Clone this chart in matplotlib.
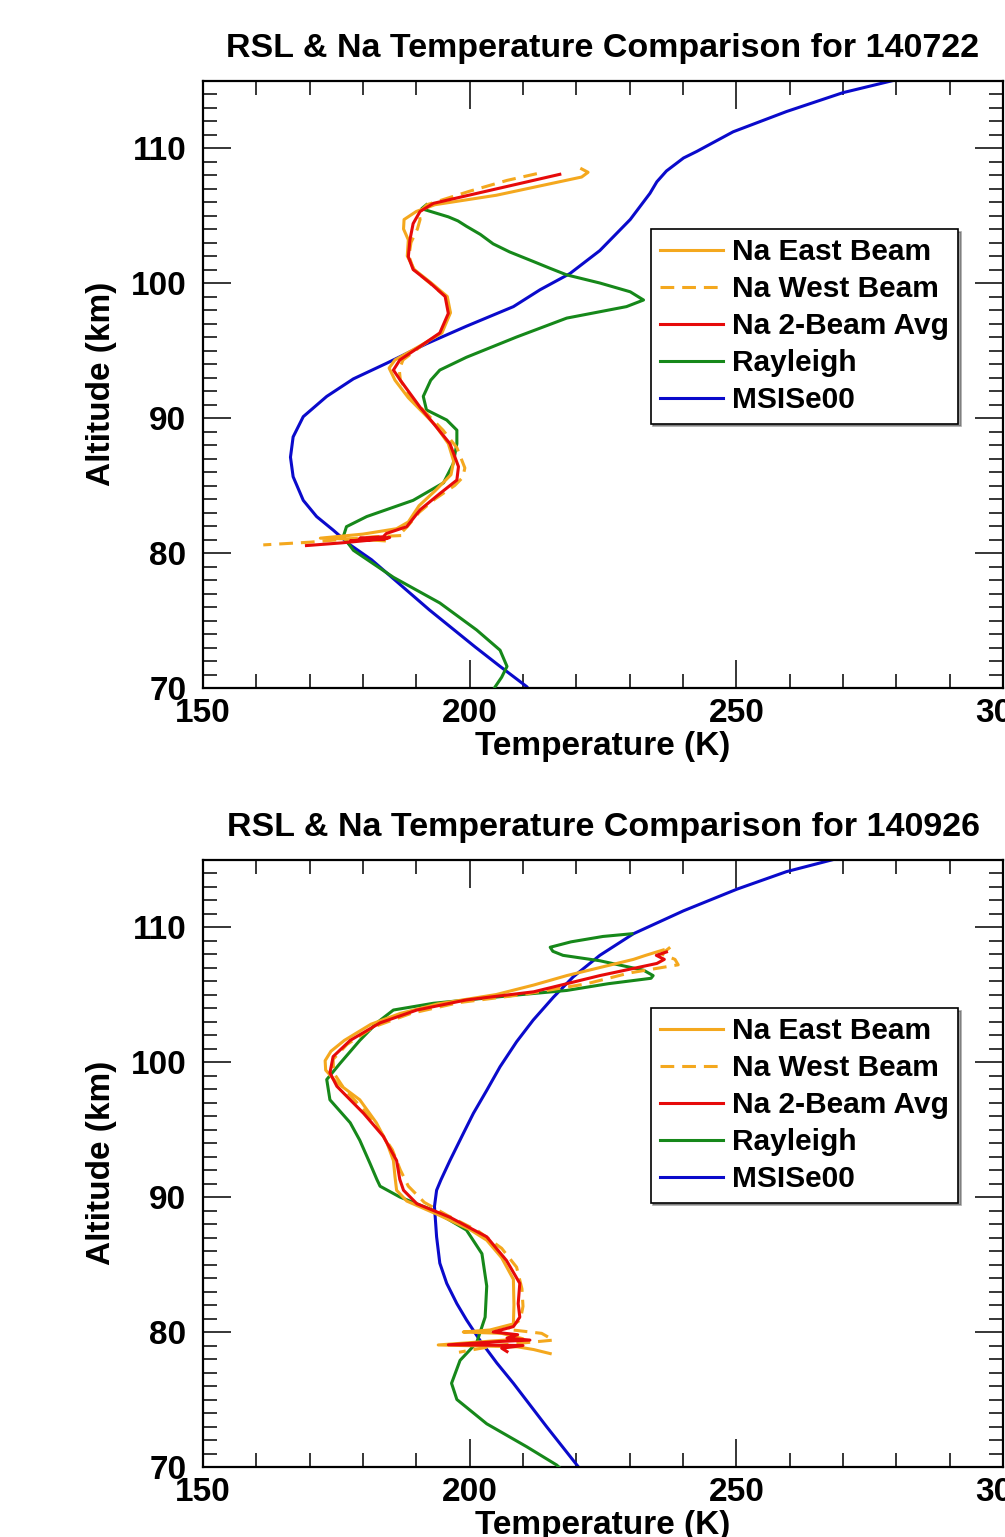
import matplotlib
matplotlib.use("Agg")
import matplotlib.pyplot as plt
from matplotlib.ticker import MultipleLocator

# ---------------- data: 140722 ----------------
msis1_alt = [115.0, 114.1, 112.7, 111.2, 109.75, 109.26, 108.3, 107.5, 106.64, 104.7, 102.4, 100.7,
             99.5, 98.25, 96.8, 95.5, 94.05, 92.9, 91.6, 90.1, 88.6, 87.1, 85.65, 83.9, 82.7, 81.7,
             80.6, 79.5, 75.8, 73.05, 71.6, 70.1, 69.9]
msis1_T = [279.4, 270.0, 259.4, 249.4, 242.6, 240.1, 236.9, 235.1, 233.8, 230.1, 224.4, 218.8,
           213.2, 208.2, 199.4, 191.9, 184.4, 178.2, 173.2, 168.8, 166.9, 166.4, 166.9, 168.8, 171.3, 174.4,
           177.6, 181.6, 192.4, 201.0, 205.7, 210.7, 211.1]

ray1_alt = [105.8, 105.5, 105.2, 104.9, 104.6, 104.2, 103.6, 102.9, 102.3, 101.6, 101.1, 100.6, 100.0,
            99.35, 98.74, 98.25, 97.4, 96.0, 94.5, 93.55, 92.8, 91.6, 90.6, 89.85, 89.1, 88.1, 86.6,
            85.2, 83.9, 82.7, 81.95, 81.2, 80.2, 78.2, 76.3, 74.3, 72.8, 71.6, 70.8, 70.1, 69.9]
ray1_T = [191.9, 191.0, 193.5, 196.0, 197.8, 199.4, 202.0, 204.4, 207.5, 211.9, 215.0, 218.2, 224.4,
          230.1, 232.6, 229.4, 218.2, 208.8, 199.4, 194.4, 192.7, 191.3, 191.9, 195.7, 197.6, 197.6, 196.9,
          195.1, 189.4, 180.7, 176.9, 176.3, 178.2, 185.7, 194.4, 201.3, 205.7, 207.0, 206.0, 204.8, 204.5]

east1_alt = [108.45, 108.2, 107.85, 106.5, 105.8, 105.3, 104.7, 104.0, 103.2, 102.0, 101.0, 100.0, 99.0,
             97.8, 96.3, 95.3, 94.3, 93.7, 92.8, 91.5, 90.5, 89.5, 88.1, 86.8, 85.8, 84.6, 83.5, 82.3,
             81.8, 81.4, 81.1, 81.0, 80.9]
east1_T = [221.0, 222.2, 221.0, 205.0, 193.5, 190.0, 187.7, 187.6, 188.5, 188.3, 189.6, 192.8, 195.8,
           196.4, 194.8, 190.5, 186.0, 184.9, 186.0, 188.5, 191.0, 193.5, 196.0, 197.0, 196.5, 193.5, 190.5,
           188.5, 186.3, 180.0, 172.0, 180.0, 184.0]

west1_alt = [108.1, 107.6, 106.8, 105.8, 105.2, 104.7, 104.0, 103.0, 102.0, 101.0, 100.0, 99.0, 97.8,
             96.3, 95.3, 94.3, 93.6, 92.8, 91.5, 90.3, 89.1, 87.8, 86.8, 86.3, 85.6, 85.0, 84.0, 83.0,
             82.0, 81.5, 81.3, 81.2, 81.0, 80.8, 80.6]
west1_T = [212.6, 207.0, 200.0, 192.0, 190.5, 190.7, 190.2, 189.0, 188.6, 189.5, 192.5, 195.5, 196.3,
           194.6, 190.8, 187.5, 186.8, 187.0, 189.0, 192.0, 195.0, 197.6, 198.6, 199.1, 198.7, 197.2, 193.5,
           190.5, 188.4, 187.2, 187.6, 182.0, 176.0, 170.0, 161.3]

avg1_alt = [108.05, 105.9, 105.3, 104.4, 103.2, 101.95, 101.0, 100.0, 99.0, 97.75, 96.3, 95.3, 94.3,
            93.55, 92.8, 90.8, 89.6, 88.1, 86.4, 85.4, 84.4, 83.2, 81.95, 81.45, 81.2, 81.1, 81.0,
            81.15, 80.9, 81.05, 80.75, 80.55]
avg1_T = [216.9, 193.2, 190.7, 189.4, 188.8, 188.5, 189.4, 192.6, 195.4, 196.0, 194.4, 190.7, 186.9,
          185.7, 187.0, 190.7, 193.2, 196.3, 197.9, 197.6, 194.4, 190.7, 188.2, 184.4, 183.8, 179.4, 183.8,
          185.0, 177.6, 184.0, 176.0, 169.4]

# ---------------- data: 140926 ----------------
msis2_alt = [115.0, 114.1, 112.8, 111.2, 109.5, 107.9, 106.3, 104.8, 103.1, 101.5, 99.65, 97.9, 96.2,
             94.7, 92.7, 91.26, 90.5, 89.3, 87.05, 85.1, 83.6, 82.1, 80.9, 79.4, 77.7, 76.2, 73.0,
             70.15, 69.9]
msis2_T = [268.2, 259.4, 250.1, 240.1, 230.7, 224.4, 219.4, 215.7, 211.9, 208.8, 205.7, 203.2, 200.7,
           198.8, 196.3, 194.6, 193.8, 193.4, 193.8, 194.4, 195.7, 197.6, 199.4, 201.9, 205.1, 208.2, 214.4,
           220.1, 220.6]

ray2_alt = [109.5, 109.3, 108.9, 108.5, 108.2, 107.9, 107.5, 106.8, 106.4, 106.2, 105.8, 105.3, 104.96,
            104.35, 103.85, 102.9, 101.6, 99.9, 98.7, 97.2, 95.5, 94.2, 92.5, 91.3, 90.8, 90.0, 89.0,
            87.55, 85.8, 83.4, 81.1, 79.2, 77.9, 76.2, 75.0, 73.2, 71.5, 70.15, 69.9]
ray2_T = [230.4, 225.0, 219.0, 215.1, 215.6, 217.5, 224.4, 232.6, 234.4, 234.0, 226.0, 218.2, 208.8,
          193.2, 185.7, 182.6, 179.4, 175.7, 173.2, 173.8, 177.6, 179.4, 181.3, 182.6, 183.2, 186.9, 193.2,
          199.4, 202.3, 203.2, 202.9, 201.3, 198.2, 196.6, 197.6, 203.2, 210.7, 216.3, 217.0]

east2_alt = [108.3, 107.9, 107.6, 106.4, 105.7, 105.0, 104.3, 103.6, 102.8, 101.6, 100.8, 100.1, 99.4,
             98.5, 97.2, 95.5, 94.0, 92.7, 91.5, 90.5, 89.7, 88.7, 87.6, 86.8, 85.5, 83.9, 82.0, 80.6,
             80.15, 80.0, 79.9, 79.5, 79.04, 78.9, 78.7, 78.4]
east2_T = [236.3, 233.0, 230.7, 218.2, 212.0, 205.0, 194.0, 187.0, 181.5, 176.5, 174.0, 172.9, 173.0,
           175.0, 179.4, 182.5, 184.5, 185.7, 186.0, 186.3, 188.2, 194.0, 200.0, 203.2, 206.0, 208.2, 208.3,
           208.2, 203.8, 198.8, 206.0, 210.0, 194.1, 209.0, 212.0, 215.1]

west2_alt = [108.5, 108.0, 107.6, 107.2, 106.6, 105.8, 105.0, 104.4, 103.6, 102.6, 101.3, 100.2, 99.2,
             98.0, 96.5, 95.0, 93.5, 92.0, 90.8, 89.6, 88.6, 87.5, 86.2, 84.8, 83.2, 81.9, 80.9, 80.2,
             79.9, 79.4, 79.0, 78.5]
west2_T = [237.6, 236.0, 238.5, 239.1, 230.0, 222.0, 210.0, 198.0, 189.0, 182.0, 177.0, 174.4, 174.5,
           176.5, 180.0, 183.0, 185.5, 187.0, 188.5, 191.5, 196.0, 201.5, 206.0, 208.8, 209.8, 210.0, 209.5,
           207.0, 213.5, 215.7, 205.0, 198.0]

avg2_alt = [108.15, 107.9, 107.6, 107.3, 106.4, 105.2, 104.6, 103.85, 102.9, 101.6, 100.4, 99.2, 98.2,
            96.2, 94.5, 92.7, 91.3, 90.5, 89.5, 88.5, 87.05, 85.3, 83.6, 82.1, 81.1, 80.4, 80.0, 79.8,
            79.55, 79.4, 79.3, 79.05, 79.0, 78.8, 78.55]
avg2_T = [236.9, 235.0, 236.5, 235.1, 224.4, 212.0, 199.4, 190.1, 183.2, 177.6, 174.4, 173.8, 175.1,
          180.1, 183.8, 186.3, 186.9, 187.6, 190.1, 196.3, 203.2, 206.9, 209.4, 209.1, 209.4, 208.2, 204.4,
          209.0, 207.0, 211.3, 205.7, 196.0, 210.0, 206.0, 207.0]

titles = ["RSL & Na Temperature Comparison for 140722",
          "RSL & Na Temperature Comparison for 140926"]
labels = ["Na East Beam", "Na West Beam", "Na 2-Beam Avg", "Rayleigh", "MSISe00"]
xticks = [150, 200, 250, 300]
yticks = [70, 80, 90, 100, 110]

C_OR = "#F4A81E"
C_RD = "#E60A0A"
C_GR = "#16881A"
C_BL = "#0A0ACB"

FONT = ["Liberation Sans", "DejaVu Sans"]
plt.rcParams["font.family"] = FONT
plt.rcParams["font.weight"] = "bold"

fig = plt.figure(figsize=(10.05, 15.37), dpi=100)
L, W, H = 203 / 1005, 800 / 1005, 607.5 / 1537
bottoms = [1 - 688 / 1537, 1 - 1467 / 1537]

panels = [
    (msis1_T, msis1_alt, ray1_T, ray1_alt, east1_T, east1_alt, west1_T, west1_alt, avg1_T, avg1_alt),
    (msis2_T, msis2_alt, ray2_T, ray2_alt, east2_T, east2_alt, west2_T, west2_alt, avg2_T, avg2_alt),
]

for i, p in enumerate(panels):
    ax = fig.add_axes([L, bottoms[i], W, H])
    mT, mA, rT, rA, eT, eA, wT, wA, aT, aA = p
    lw = 2.2
    hm, = ax.plot(mT, mA, color=C_BL, lw=lw, zorder=2)
    hr, = ax.plot(rT, rA, color=C_GR, lw=lw, zorder=3)
    he, = ax.plot(eT, eA, color=C_OR, lw=lw, zorder=4)
    hw, = ax.plot(wT, wA, color=C_OR, lw=lw, ls=(0, (4.5, 2.6)), zorder=4)
    ha, = ax.plot(aT, aA, color=C_RD, lw=lw, zorder=5)

    ax.set_xlim(150, 300)
    ax.set_ylim(70, 115)
    ax.set_xticks(xticks)
    ax.set_yticks(yticks)
    ax.xaxis.set_minor_locator(MultipleLocator(10))
    ax.yaxis.set_minor_locator(MultipleLocator(1))
    ax.tick_params(which="both", direction="in", top=True, right=True, color="black")
    ax.tick_params(which="major", length=20, width=1.1)
    ax.tick_params(which="minor", length=10, width=1.1)
    ax.tick_params(axis="x", which="major", labelsize=24, pad=7.5)
    ax.tick_params(axis="y", which="major", labelsize=24, pad=12)
    for lab in ax.get_xticklabels() + ax.get_yticklabels():
        lab.set_fontweight("bold")
    for s in ax.spines.values():
        s.set_linewidth(1.6)

    ax.set_xlabel("Temperature (K)", fontsize=24, fontweight="bold", labelpad=1)
    ax.set_ylabel("Altitude (km)", fontsize=24, fontweight="bold", labelpad=10)
    ax.set_title(titles[i], fontsize=24.5, fontweight="bold", pad=17)

    leg = ax.legend([he, hw, ha, hr, hm], labels, loc="upper right",
                    bbox_to_anchor=(0.944, 0.756), borderaxespad=0,
                    prop={"family": FONT, "weight": "bold", "size": 21.5},
                    frameon=True, fancybox=False, shadow=True, framealpha=1,
                    edgecolor="black", handlelength=2.1, handletextpad=0.3,
                    labelspacing=0.3, borderpad=0.32)
    leg.get_frame().set_linewidth(1.2)

fig.savefig("out.png", dpi=100)
